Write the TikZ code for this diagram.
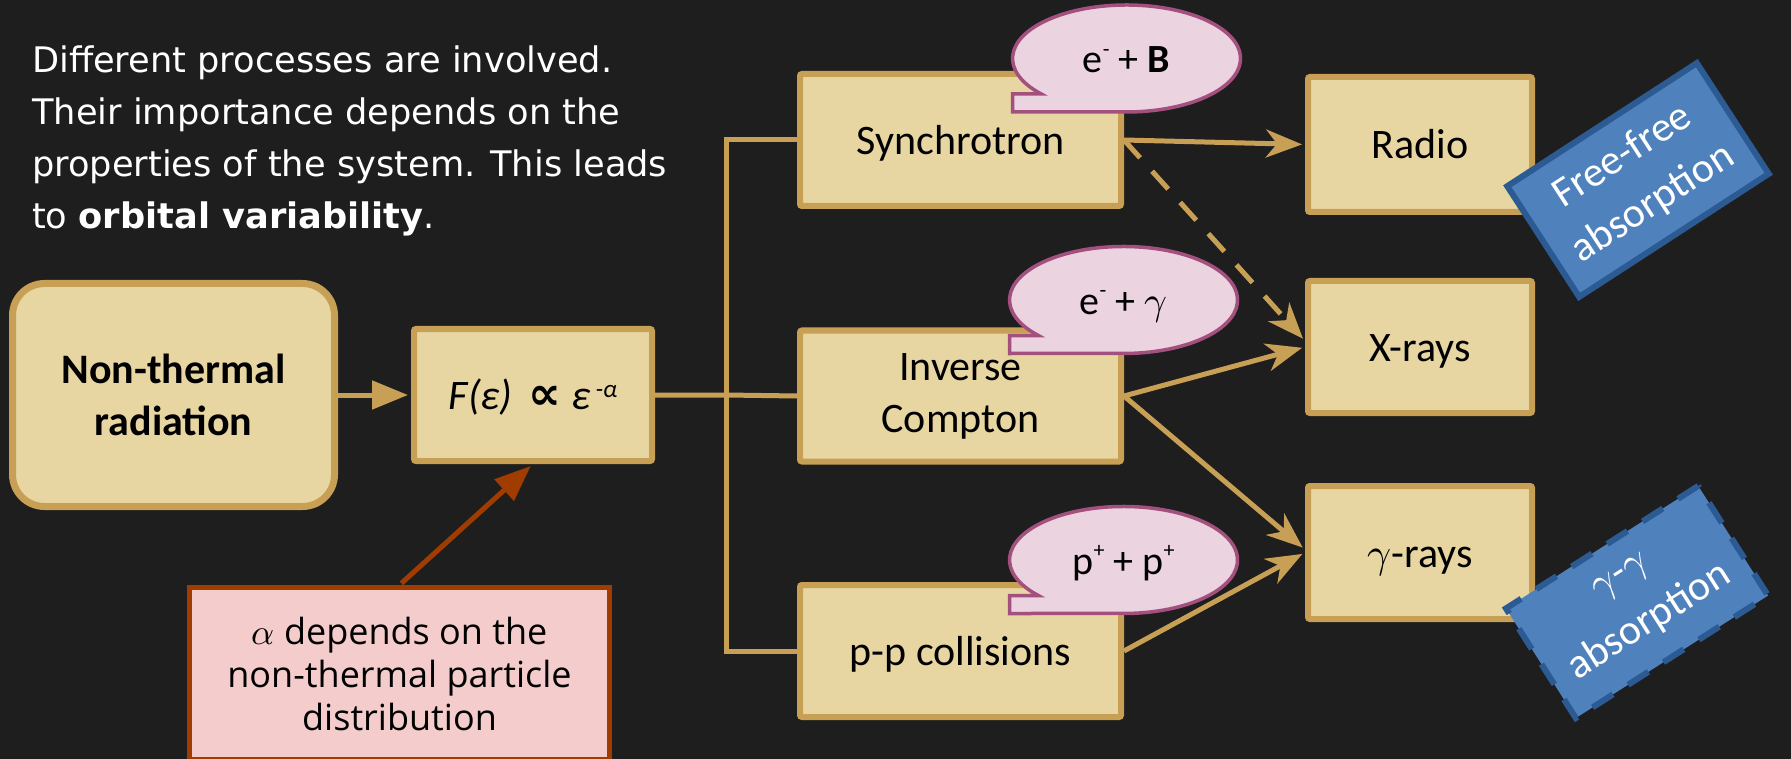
\documentclass[tikz,border=0pt]{standalone}
\usepackage{fontspec}
\usepackage{unicode-math}
\setmainfont{Carlito}
\newfontfamily\notefont{DejaVu Sans}
\newfontfamily\capfont{Open Sans}
\newfontfamily\symfont{DejaVu Sans}
\usetikzlibrary{arrows.meta,calc}

\definecolor{bgc}{HTML}{1E1E1E}
\definecolor{tanfill}{HTML}{E8D6A2}
\definecolor{tanline}{HTML}{C8A055}
\definecolor{bubfill}{HTML}{EBD3DF}
\definecolor{bubline}{HTML}{A4507F}
\definecolor{bluefill}{HTML}{4F81BD}
\definecolor{blueline}{HTML}{2C5A93}
\definecolor{notefill}{HTML}{F4CCCC}
\definecolor{noteline}{HTML}{A03C00}

% small raised signs for particle charges
\newcommand\chg[1]{\raisebox{0.42em}{\fontsize{22}{22}\selectfont #1}}

% elliptic speech bubble with a short tab at its lower left
\newcommand\speechbubble[2]{%
  \filldraw[bubble] ({#1-114},{#2+35.5}) -- ({#1-85.2},{#2+35.5})
    arc[start angle=138.4, end angle=450, x radius=114, y radius=53.5]
    -- ({#1-114},{#2+53.5}) -- cycle;}

\tikzset{
  stagebox/.style={draw=tanline, fill=tanfill, line width=6pt, inner sep=0pt,
    align=center, text=black, rounded corners=2pt, font=\fontsize{42}{52}\selectfont},
  oneline/.style={text height=29pt, text depth=0pt},
  wire/.style={draw=tanline, line width=5pt},
  flow/.style={wire, -{Stealth[length=36pt,width=28pt,inset=11pt]}, shorten >=3pt},
  feed/.style={wire, -{Triangle[length=36pt,width=28pt]}, shorten >=3pt},
  cause/.style={draw=noteline, line width=5pt, -{Triangle[length=36pt,width=28pt]},
    shorten >=3pt, shorten <=2.5pt},
  bubble/.style={draw=bubline, fill=bubfill, line width=3.5pt},
  bubtext/.style={inner sep=0pt, text height=29pt, text depth=0pt,
    font=\fontsize{40}{48}\selectfont},
  absbox/.style={draw=blueline, fill=bluefill, line width=6pt, inner sep=0pt,
    align=center, text=white, font=\fontsize{42}{56}\selectfont},
  notebox/.style={draw=noteline, fill=notefill, line width=5pt, inner sep=0pt,
    align=center, text=black, font=\capfont\fontsize{36}{43}\selectfont},
}

\begin{document}
\begin{tikzpicture}[x=1pt,y=-1pt]
\fill[bgc] (0,0) rectangle (1791,759);
\useasboundingbox (0,0) rectangle (1791,759);

% introductory text
\node[anchor=north west, inner sep=0pt, align=left, text=white,
  font=\notefont\fontsize{35.2}{52}\selectfont] (intro) at (32,46)
  {Different processes are involved.\\Their importance depends on the\\
   properties of the system. This leads\\to \textbf{orbital variability}.};

% main chain
\node[stagebox, rounded corners=32pt, line width=7pt, minimum width=322pt,
  minimum height=223pt, font=\bfseries\fontsize{42}{52}\selectfont] (nt)
  at (173.5,395) {Non-thermal\\radiation};
\node[stagebox, oneline, minimum width=238pt, minimum height=132pt] (fe) at (533,395)
  {\itshape F(ε)\hspace{16pt}{\symfont\bfseries\upshape\fontsize{46}{46}\selectfont ∝}\hspace{10pt}ε\hspace{5pt}%
   \raisebox{12pt}{\fontsize{25}{25}\selectfont -α}};

% emission processes
\node[stagebox, oneline, minimum width=321pt, minimum height=132pt] (sync) at (960.5,140) {Synchrotron};
\node[stagebox, minimum width=321pt, minimum height=131pt] (ic) at (960.5,396) {Inverse\\Compton};
\node[stagebox, oneline, minimum width=321pt, minimum height=132pt] (pp) at (960.5,651) {p-p collisions};

% observed bands
\node[stagebox, oneline, minimum width=224pt, minimum height=135pt] (radio) at (1420,144.5) {Radio};
\node[stagebox, oneline, minimum width=224pt, minimum height=132pt] (xr) at (1420,347) {X-rays};
\node[stagebox, oneline, minimum width=224pt, minimum height=133pt] (gr) at (1420,552.5) {$\gamma$-rays};

% note on the spectral index
\node[notebox, minimum width=420pt, minimum height=172pt] (al) at (399.5,673.5)
  {$\alpha$ depends on the\\non-thermal particle\\distribution};

% connectors
\coordinate (split) at (726,395);
\draw[feed] (nt.east) -- (fe.west);
\draw[wire] (fe.east) -- (split) -- (ic.west);
\draw[wire] (split) |- (sync.west);
\draw[wire] (split) |- (pp.west);
\draw[cause] (al.north) -- (fe.south);
\draw[flow] (sync.east) -- (radio.west);
\draw[flow, dash pattern=on 24pt off 18pt] (sync.east) -- ($(xr.west)+(0,-6)$);
\draw[flow] (ic.east) -- (xr.west);
\draw[flow] (ic.east) -- ($(gr.west)+(0,-3)$);
\draw[flow] (pp.east) -- (gr.west);

% interaction bubbles
\speechbubble{1126.5}{58.5}
\node[bubtext] (sb) at (1126.5,58.5) {e\chg{-} + \textbf{B}};
\speechbubble{1123.5}{300}
\node[bubtext] (icb) at (1123.5,300) {e\chg{-} + $\gamma$};
\speechbubble{1123.5}{560}
\node[bubtext] (ppb) at (1123.5,560) {p\chg{+} + p\chg{+}};

% absorption processes
\node[absbox, rotate=33, minimum width=226pt, minimum height=132pt] (ff) at (1638,180)
  {Free-free\\absorption};
\node[absbox, rotate=32.5, dash pattern=on 24pt off 18pt, minimum width=228pt,
  minimum height=130pt] (gg) at (1637,602) {$\gamma$-$\gamma$\\absorption};
\end{tikzpicture}
\end{document}
